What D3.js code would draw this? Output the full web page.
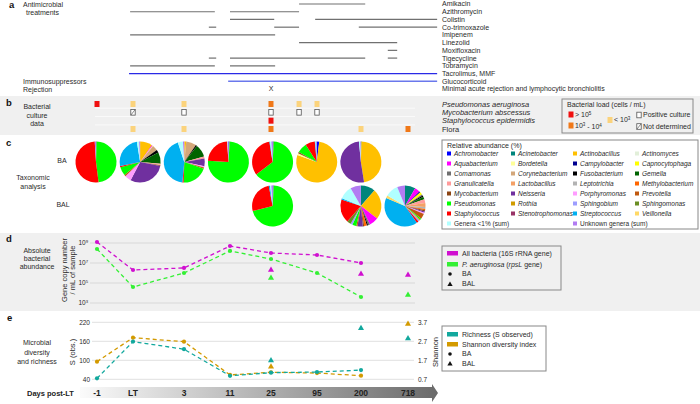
<!DOCTYPE html>
<html><head><meta charset="utf-8">
<script src="https://cdn.jsdelivr.net/npm/d3@7"></script>
<style>
body{margin:0;background:#fff;}
svg{font-family:"Liberation Sans",Arial,Helvetica,sans-serif;}
</style></head><body>
<svg id="chart" width="700" height="404"></svg>
<script>
// ---------------- DATA ----------------
const timepoints = ["-1","LT","3","11","25","95","200","718"];
// treatment periods in timeline units (integer = sampling timepoint index)
const treatmentRows = ["Amikacin","Azithromycin","Colistin","Co-trimoxazole","Imipenem","Linezolid","Moxifloxacin","Tigecycline","Tobramycin","Tacrolimus, MMF","Glucocorticoid","Minimal acute rejection and lymphocytic bronchiolitis"];
const antimicrobialPeriods = [
 ["Amikacin",4.61,6.09],
 ["Azithromycin",0.92,2.67],["Azithromycin",3.0,4.61],
 ["Colistin",3.0,4.07],["Colistin",4.96,7.62],
 ["Co-trimoxazole",2.54,2.70],["Co-trimoxazole",4.07,4.61],["Co-trimoxazole",5.95,7.62],
 ["Imipenem",0.92,4.09],
 ["Linezolid",4.61,6.77],
 ["Moxifloxacin",6.57,6.77],
 ["Tigecycline",2.54,2.70],["Tigecycline",3.0,6.09],["Tigecycline",6.57,6.77],
 ["Tobramycin",0.92,2.67],["Tobramycin",3.0,4.09]
];
const immunoPeriods = [["Tacrolimus, MMF",0.89,7.62],["Glucocorticoid",2.96,7.62]];
const rejectionEvents = [4];

const cultureRows = ["Pseudomonas aeruginosa","Mycobacterium abscessus","Staphylococcus epidermidis","Flora"];
const cultureResults = [
 [0,0,"high"],[0,1,"low"],[0,2,"low"],[0,4,"mid"],[0,4.61,"low"],[0,5,"low"],
 [1,1,"nd"],[1,2,"pos"],[1,4,"pos"],[1,4.61,"pos"],[1,5,"pos"],
 [2,4,"high"],
 [3,1,"low"],[3,2,"low"],[3,4,"mid"],[3,6,"low"],[3,7,"mid"]
];

const genera = ["Achromobacter","Acinetobacter","Actinobacillus","Actinomyces","Aquabacterium","Bordetella","Campylobacter","Capnocytophaga","Comamonas","Corynebacterium","Fusobacterium","Gemella","Granulicatella","Lactobacillus","Leptotrichia","Methylobacterium","Mycobacterium","Neisseria","Porphyromonas","Prevotella","Pseudomonas","Rothia","Sphingobium","Sphingomonas","Staphylococcus","Stenotrophomonas","Streptococcus","Veillonella","Genera <1% (sum)","Unknown genera (sum)"];
const generaColors = ["#0000ff","#00857c","#ffc000","#e2efd9","#ff00ff","#ffff99","#000090","#ffff00","#6f6f6f","#d3a77a","#000000","#006400","#ff9b9b","#f4a066","#b3b3b3","#ff6600","#8b4513","#70309f","#ff9cff","#c0590f","#00ff00","#d09b00","#9d9dff","#6b8e23","#ff0000","#993366","#00b0f0","#ffd966","#b0ffff","#b27cf2"];

const pieSamples = [
 {t:"-1", type:"BA", ab:{Comamonas:0.5,Pseudomonas:47.5,Staphylococcus:51,"Unknown genera (sum)":1}},
 {t:"LT", type:"BA", ab:{Actinobacillus:9.5,Aquabacterium:0.6,Bordetella:0.5,Corynebacterium:4.2,Fusobacterium:2.2,Gemella:8.9,Granulicatella:0.6,Lactobacillus:0.4,Mycobacterium:0.6,Neisseria:29,Porphyromonas:5,Prevotella:1.1,Pseudomonas:6.7,Staphylococcus:1.1,Streptococcus:25,"Genera <1% (sum)":1.7,"Unknown genera (sum)":0.8}},
 {t:"3", type:"BA", ab:{Actinobacillus:1.5,Corynebacterium:8,Fusobacterium:1,Gemella:10,Granulicatella:1.5,Neisseria:6,Porphyromonas:1,Prevotella:1,Pseudomonas:20,Staphylococcus:1,Streptococcus:43,"Genera <1% (sum)":4,"Unknown genera (sum)":1}},
 {t:"11", type:"BA", ab:{Achromobacter:0.5,Comamonas:0.5,Pseudomonas:75,Staphylococcus:23,"Genera <1% (sum)":0.5,"Unknown genera (sum)":0.5}},
 {t:"25", type:"BA", ab:{Achromobacter:0.4,Comamonas:0.6,Pseudomonas:64,Staphylococcus:33,Streptococcus:0.5,"Genera <1% (sum)":1,"Unknown genera (sum)":1}},
 {t:"95", type:"BA", ab:{Achromobacter:2,Actinobacillus:78.5,Bordetella:1.5,Mycobacterium:1,Pseudomonas:8,Staphylococcus:7.5,Streptococcus:0.5,"Genera <1% (sum)":0.5,"Unknown genera (sum)":0.5}},
 {t:"200", type:"BA", ab:{Acinetobacter:0.5,Actinobacillus:47,Neisseria:51,"Genera <1% (sum)":1,"Unknown genera (sum)":0.5}},
 {t:"25", type:"BAL", ab:{Achromobacter:0.5,Comamonas:0.5,Pseudomonas:70,Staphylococcus:26,Streptococcus:1,"Genera <1% (sum)":1,"Unknown genera (sum)":1}},
 {t:"200", type:"BAL", ab:{Acinetobacter:11,Actinobacillus:23,Aquabacterium:7,Comamonas:1.5,Fusobacterium:1,Methylobacterium:2,Mycobacterium:1,Neisseria:4,Prevotella:1,Pseudomonas:3,Sphingobium:1.5,Sphingomonas:3,Staphylococcus:18,Streptococcus:1,"Genera <1% (sum)":10,"Unknown genera (sum)":8}},
 {t:"718", type:"BAL", ab:{Acinetobacter:8,Aquabacterium:4,Campylobacter:1,Capnocytophaga:2,Comamonas:1,Fusobacterium:1,Gemella:2,Granulicatella:3,Lactobacillus:3,Leptotrichia:1.5,Methylobacterium:1,Mycobacterium:1,Neisseria:1,Porphyromonas:1,Prevotella:4,Pseudomonas:1,Rothia:1,Sphingobium:1,Staphylococcus:1.5,Streptococcus:40,Veillonella:2,"Genera <1% (sum)":10,"Unknown genera (sum)":6}}
];

// gene copies / mL (null = not measured)
const allBacteriaBA  = [1.26e9, 2.0e6, 3.2e6, 5.0e8, 1.0e8, 6.3e7, 1.0e7, null];
const allBacteriaBAL = [null, null, null, null, 2.0e6, null, 8.0e5, 6.3e5];
const pAeruginosaBA  = [2.5e8, 4.0e4, 1.0e6, 1.6e8, 2.5e7, 1.0e6, 4.0e3, null];
const pAeruginosaBAL = [null, null, null, null, 3.2e5, null, null, 6.3e3];
const abundanceTicks = [1e3, 1e5, 1e7, 1e9];

const richnessBA  = [43, 159, 135, 51, 61, 63, 69, null];
const richnessBAL = [null, null, null, null, 99, null, 201, 169];
const shannonBA   = [1.63, 2.89, 2.68, 0.93, 1.07, 1.03, 0.89, null];
const shannonBAL  = [null, null, null, null, 1.36, null, null, 3.61];
const richnessTicks = [40, 100, 160, 220];
const shannonTicks = [0.7, 1.7, 2.7, 3.7];

// ---------------- DRAW ----------------
const svg = d3.select("#chart");
const TXT = "#2a2a2a";
const x = d3.scaleLinear().domain(d3.range(timepoints.length)).range([97,133,184,230,271,317,361,408]);

function txt(g, xx, yy, s, o={}) {
  const t = g.append("text").attr("x", xx).attr("y", yy).attr("dy","0.35em")
    .attr("font-size", o.size||7).attr("fill", o.fill||TXT)
    .attr("text-anchor", o.anchor||"start");
  if (o.weight) t.attr("font-weight", o.weight);
  if (o.italic) t.attr("font-style","italic");
  t.text(s);
  return t;
}
function supText(g, xx, yy, base, sup, o={}) {
  const t = txt(g, xx, yy, "", o);
  t.append("tspan").text(base);
  t.append("tspan").attr("font-size", (o.size||7)*0.65).attr("dy","-0.45em").text(sup);
  return t;
}

// backgrounds
svg.append("rect").attr("x",0).attr("y",96).attr("width",700).attr("height",39).attr("fill","#f0f0f0");
svg.append("rect").attr("x",0).attr("y",233).attr("width",700).attr("height",78).attr("fill","#f0f0f0");

// panel letters
[["a",9,5],["b",6,103],["c",6,143],["d",6,239],["e",7,318]].forEach(([l,xx,yy])=>
  txt(svg,xx,yy,l,{size:9.5,weight:"bold",fill:"#111"}));

// ---- panel a
const gA = svg.append("g");
const yA = d3.scalePoint().domain(treatmentRows).range([4, 89]);
txt(gA,23,5,"Antimicrobial");
txt(gA,26,13,"treatments");
txt(gA,23,82,"Immunosuppressors");
txt(gA,23,90,"Rejection");
gA.selectAll(".abx").data(antimicrobialPeriods).join("line")
  .attr("x1",d=>x(d[1])).attr("x2",d=>x(d[2]))
  .attr("y1",d=>yA(d[0])).attr("y2",d=>yA(d[0]))
  .attr("stroke","#707070").attr("stroke-width",1.2);
gA.selectAll(".imm").data(immunoPeriods).join("line")
  .attr("x1",d=>x(d[1])).attr("x2",d=>x(d[2]))
  .attr("y1",d=>yA(d[0])).attr("y2",d=>yA(d[0]))
  .attr("stroke",(d,i)=>i===0?"#2a2ae6":"#6a78ec").attr("stroke-width",1.3);
rejectionEvents.forEach(t=>txt(gA,x(t),yA(treatmentRows[11]),"X",{anchor:"middle",size:7}));
treatmentRows.forEach(r=>txt(gA,442,yA(r),r,{size:7}));

// ---- panel b
const gB = svg.append("g");
const yB = d3.scalePoint().domain(d3.range(cultureRows.length)).range([104,129]);
txt(gB,37,107,"Bacterial",{anchor:"middle"});
txt(gB,37,116,"culture",{anchor:"middle"});
txt(gB,37,124,"data",{anchor:"middle"});
[0,1,2].forEach(i=>gB.append("line").attr("x1",95).attr("x2",415)
  .attr("y1",(yB(i)+yB(i+1))/2).attr("y2",(yB(i)+yB(i+1))/2).attr("stroke","#fafafa").attr("stroke-width",1));
const loadColor = {high:"#f01010", mid:"#f07818", low:"#fbd37c"};
function cultureMark(g, cx, cy, kind) {
  if (loadColor[kind]) {
    g.append("rect").attr("x",cx-2.5).attr("y",cy-3).attr("width",5).attr("height",6).attr("fill",loadColor[kind]);
  } else {
    g.append("rect").attr("x",cx-2.2).attr("y",cy-2.8).attr("width",4.4).attr("height",5.6)
      .attr("fill","#fff").attr("stroke","#555").attr("stroke-width",0.8);
    if (kind==="nd") g.append("line").attr("x1",cx-2.2).attr("y1",cy+2.8).attr("x2",cx+2.2).attr("y2",cy-2.8)
      .attr("stroke","#555").attr("stroke-width",0.7);
  }
}
cultureResults.forEach(([r,t,k])=>cultureMark(gB, x(t), yB(r), k));
cultureRows.forEach((r,i)=>txt(gB,442,yB(i),r,{size:7.5,italic:i<3}));
// legend b
gB.append("rect").attr("x",562).attr("y",99).attr("width",131).attr("height",34)
  .attr("fill","none").attr("stroke","#888").attr("stroke-width",1);
txt(gB,567,105,"Bacterial load (cells / mL)",{size:7});
cultureMark(gB,571,114.5,"high"); supText(gB,575,114.5,"> 10","5",{size:7});
cultureMark(gB,571,125.5,"mid");
(function(){ const t=txt(gB,575,125.5,"",{size:7}); t.append("tspan").text("10");
  t.append("tspan").attr("font-size",4.5).attr("dy","-0.45em").text("3");
  t.append("tspan").attr("dy","0.45em").text(" - 10");
  t.append("tspan").attr("font-size",4.5).attr("dy","-0.45em").text("4"); })();
cultureMark(gB,610,120,"low"); supText(gB,614,120,"< 10","3",{size:7});
cultureMark(gB,639,115,"pos"); txt(gB,643,115,"Positive culture",{size:7});
cultureMark(gB,639,126.5,"nd"); txt(gB,643,126.5,"Not determined",{size:7});

// ---- panel c
const gC = svg.append("g");
txt(gC,33,178,"Taxonomic",{anchor:"middle"});
txt(gC,33,187,"analysis",{anchor:"middle"});
txt(gC,62,161,"BA",{anchor:"middle"});
txt(gC,63,205,"BAL",{anchor:"middle"});
const xPie = d3.scalePoint().domain(timepoints).range([96,405]);
const yPie = d3.scalePoint().domain(["BA","BAL"]).range([162,206]);
const color = d3.scaleOrdinal().domain(genera).range(generaColors);
const pie = d3.pie().sort(null).value(d=>d.v);
const arc = d3.arc().innerRadius(0).outerRadius(20.5);
pieSamples.forEach(s=>{
  const vals = genera.filter(g=>s.ab[g]).map(g=>({g, v:s.ab[g]}));
  const g = gC.append("g").attr("transform",`translate(${xPie(s.t)},${yPie(s.type)})`);
  g.selectAll("path").data(pie(vals)).join("path").attr("d",arc).attr("fill",d=>color(d.data.g));
});
// legend c
gC.append("rect").attr("x",442).attr("y",140).attr("width",256).attr("height",89)
  .attr("fill","none").attr("stroke","#888").attr("stroke-width",1);
txt(gC,447,145.5,"Relative abundance (%)",{size:7});
const colX = [447,511,573,635];
genera.forEach((g,i)=>{
  let col = i%4, row = Math.floor(i/4);
  if (i===29) { col = 2; row = 7; }
  const lx = colX[col], ly = 153.5 + row*10;
  gC.append("rect").attr("x",lx).attr("y",ly-2).attr("width",4).attr("height",4).attr("fill",color(g));
  txt(gC,lx+7,ly,g,{size:6.5,italic:i<28});
});

// ---- panel d
const gD = svg.append("g");
txt(gD,37,251,"Absolute",{anchor:"middle"});
txt(gD,37,259,"bacterial",{anchor:"middle"});
txt(gD,37,267,"abundance",{anchor:"middle"});
const yD = d3.scaleLog().domain([1e3,1e9]).range([303,243]);
[["Gene copy number",64],["/ mL of sample",72]].forEach(([s,xx])=>
  gD.append("text").attr("transform",`translate(${xx},270) rotate(-90)`).attr("text-anchor","middle")
   .attr("dy","0.35em").attr("font-size",7.5).attr("fill",TXT).text(s));
abundanceTicks.forEach(v=>{
  gD.append("line").attr("x1",90).attr("x2",415).attr("y1",yD(v)).attr("y2",yD(v)).attr("stroke","#d8d8d8").attr("stroke-width",1);
  supText(gD,88,yD(v),"10",String(Math.round(Math.log10(v))),{size:6.5,anchor:"end"});
});
const tri = d3.symbol().type(d3.symbolTriangle).size(16);
function series(g, values, yS, col, dashed, marker) {
  const pts = values.map((v,i)=>({i,v})).filter(d=>d.v!=null);
  if (dashed) g.append("path").datum(pts).attr("fill","none").attr("stroke",col).attr("stroke-width",1.3)
    .attr("stroke-dasharray","4,3").attr("d", d3.line().x(d=>x(d.i)).y(d=>yS(d.v)));
  if (marker==="circle") g.selectAll(null).data(pts).join("circle").attr("cx",d=>x(d.i)).attr("cy",d=>yS(d.v)).attr("r",2.1).attr("fill",col);
  else g.selectAll(null).data(pts).join("path").attr("d",tri).attr("transform",d=>`translate(${x(d.i)},${yS(d.v)})`).attr("fill",col);
}
const MAG = "#d010d0", GRN = "#33f033";
series(gD, allBacteriaBA, yD, MAG, true, "circle");
series(gD, pAeruginosaBA, yD, GRN, true, "circle");
series(gD, allBacteriaBAL, yD, MAG, false, "tri");
series(gD, pAeruginosaBAL, yD, GRN, false, "tri");
// legend d
gD.append("rect").attr("x",442).attr("y",246).attr("width",119).attr("height",44)
  .attr("fill","none").attr("stroke","#888").attr("stroke-width",1);
gD.append("rect").attr("x",447).attr("y",251).attr("width",11).attr("height",4.5).attr("fill",MAG);
txt(gD,462,253.3,"All bacteria (16S rRNA gene)",{size:7});
gD.append("rect").attr("x",447).attr("y",262).attr("width",11).attr("height",4.5).attr("fill",GRN);
(function(){ const t=txt(gD,462,264.3,"",{size:7});
  t.append("tspan").attr("font-style","italic").text("P. aeruginosa");
  t.append("tspan").text(" (");
  t.append("tspan").attr("font-style","italic").text("rpsL");
  t.append("tspan").text(" gene)"); })();
gD.append("circle").attr("cx",450).attr("cy",274).attr("r",1.8).attr("fill","#111");
txt(gD,462,274,"BA",{size:7});
gD.append("path").attr("d",d3.symbol().type(d3.symbolTriangle).size(12)).attr("transform","translate(450,284.5)").attr("fill","#111");
txt(gD,462,284,"BAL",{size:7});

// ---- panel e
const gE = svg.append("g");
txt(gE,37,343,"Microbial",{anchor:"middle"});
txt(gE,37,352.5,"diversity",{anchor:"middle"});
txt(gE,37,362,"and richness",{anchor:"middle"});
const yS = d3.scaleLinear().domain([40,220]).range([379.3,322.3]);
const yH = d3.scaleLinear().domain([0.7,3.7]).range([379.3,322.3]);
gE.append("text").attr("transform","translate(72,352) rotate(-90)").attr("text-anchor","middle")
  .attr("dy","0.35em").attr("font-size",7.5).attr("fill",TXT).text("S (obs.)");
gE.append("text").attr("transform","translate(435,352) rotate(-90)").attr("text-anchor","middle")
  .attr("dy","0.35em").attr("font-size",7.5).attr("fill",TXT).text("Shannon");
richnessTicks.forEach(v=>{
  gE.append("line").attr("x1",92).attr("x2",414).attr("y1",yS(v)).attr("y2",yS(v)).attr("stroke","#e0e0e0");
  txt(gE,90,yS(v),String(v),{size:6.5,anchor:"end"});
});
shannonTicks.forEach(v=>txt(gE,418,yH(v),v.toFixed(1),{size:6.5}));
const TEAL = "#12a89d", ORG = "#d39a00";
series(gE, shannonBA, yH, ORG, true, "circle");
series(gE, richnessBA, yS, TEAL, true, "circle");
series(gE, richnessBAL, yS, TEAL, false, "tri");
series(gE, shannonBAL, yH, ORG, false, "tri");
// legend e
gE.append("rect").attr("x",442).attr("y",326).attr("width",104).attr("height",45)
  .attr("fill","none").attr("stroke","#888").attr("stroke-width",1);
gE.append("rect").attr("x",447).attr("y",332).attr("width",11).attr("height",4.5).attr("fill",TEAL);
txt(gE,462,334.3,"Richness (S observed)",{size:7});
gE.append("rect").attr("x",447).attr("y",342).attr("width",11).attr("height",4.5).attr("fill",ORG);
txt(gE,462,344.3,"Shannon diversity index",{size:7});
gE.append("circle").attr("cx",450).attr("cy",354).attr("r",1.8).attr("fill","#111");
txt(gE,462,354,"BA",{size:7});
gE.append("path").attr("d",d3.symbol().type(d3.symbolTriangle).size(12)).attr("transform","translate(450,364)").attr("fill","#111");
txt(gE,462,363.5,"BAL",{size:7});

// ---- time axis
const defs = svg.append("defs");
const grad = defs.append("linearGradient").attr("id","tg").attr("x1","0%").attr("x2","100%");
grad.append("stop").attr("offset","0%").attr("stop-color","#fbfbfb");
grad.append("stop").attr("offset","100%").attr("stop-color","#6a6a6a");
svg.append("path").attr("d","M80,387 L432,387 L432,384 L438,393 L432,402 L432,398 L80,398 Z").attr("fill","url(#tg)");
txt(svg,27,393,"Days post-LT",{size:7.5,weight:"bold",fill:"#222"});
timepoints.forEach((t,i)=>txt(svg,x(i),393,t,{size:8.5,weight:"bold",anchor:"middle",fill:"#222"}));
</script>
</body></html>
